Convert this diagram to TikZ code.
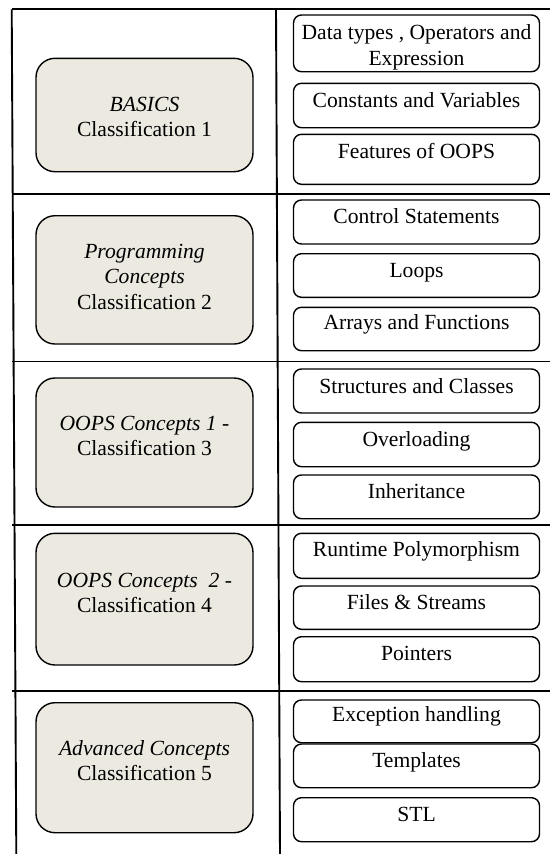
\documentclass[tikz,border=0pt]{standalone}
\usepackage{fontspec}
\setmainfont{Liberation Serif}
\definecolor{topicfill}{RGB}{236,234,224}

% topic box in the left column: name, top, bottom, first baseline, text
\newcommand\topicbox[5]{%
  \node[topic, minimum height={#3pt-#2pt}] (#1) at (144.5,{(#2+#3)/2}) {};
  \node[lbl] (#1-text) at (#1.center |- 0,{#4-17.85}) {\strut #5};
}
% item box in the right column: name, top, bottom, first baseline, text
\newcommand\itembox[5]{%
  \node[item, minimum height={#3pt-#2pt}] (#1) at (416.5,{(#2+#3)/2}) {};
  \node[lbl] (#1-text) at (#1.center |- 0,{#4-17.85}) {\strut #5};
}

\begin{document}
\begin{tikzpicture}[x=1pt, y=-1pt,
  rule/.style={line width=1.9pt, black},
  topic/.style={draw, line width=1.4pt, rounded corners=19pt, fill=topicfill,
    minimum width=217pt, inner sep=0pt},
  item/.style={draw, line width=1.4pt, rounded corners=8pt,
    minimum width=246pt, inner sep=0pt},
  lbl/.style={anchor=north, inner sep=0pt, align=center,
    font=\fontsize{21.6}{25.5}\selectfont},
]
\useasboundingbox[fill=white] (0,0) rectangle (550,854);

% table frame and row rules
\draw[rule] (11.7,9.3) -- (550,9.3);
\draw[rule] (11.7,9.3) -- (16.3,854);
\draw[rule] (276,9.3) -- (280,854);
\foreach \y in {194.3,361.5,525.3,691}
  \draw[rule] (12.3,\y) -- (550,\y);

% left column
\topicbox{t1}{58.3}{171.7}{111}{\textit{BASICS}\\Classification 1}
\topicbox{t2}{215.7}{344}{258}{\textit{Programming}\\\textit{Concepts}\\Classification 2}
\topicbox{t3}{378}{507}{430}{\textit{OOPS Concepts 1} -\\Classification 3}
\topicbox{t4}{533.3}{665}{587}{\textit{OOPS Concepts\ \ 2} -\\Classification 4}
\topicbox{t5}{702.7}{832.7}{755}{\textit{Advanced Concepts}\\Classification 5}

% right column
\itembox{a1}{15}{71.7}{39.5}{Data types , Operators and\\Expression}
\itembox{a2}{83.3}{127.7}{107.3}{Constants and Variables}
\itembox{a3}{134.3}{184.3}{158.3}{Features of OOPS}

\itembox{b1}{200}{244}{223.5}{Control Statements}
\itembox{b2}{253.7}{297.3}{277}{Loops}
\itembox{b3}{307.3}{350.7}{329.7}{Arrays and Functions}

\itembox{c1}{369}{413}{393}{Structures and Classes}
\itembox{c2}{422.3}{466.7}{446}{Overloading}
\itembox{c3}{475}{518.7}{498.7}{Inheritance}

\itembox{d1}{533.3}{578.3}{556}{Runtime Polymorphism}
\itembox{d2}{586}{629.3}{609.3}{Files \& Streams}
\itembox{d3}{636.7}{681.7}{660.5}{Pointers}

\itembox{e1}{700}{742.7}{721.7}{Exception handling}
\itembox{e2}{744}{787.7}{767.3}{Templates}
\itembox{e3}{797.7}{841.7}{821.7}{STL}
\end{tikzpicture}
\end{document}
